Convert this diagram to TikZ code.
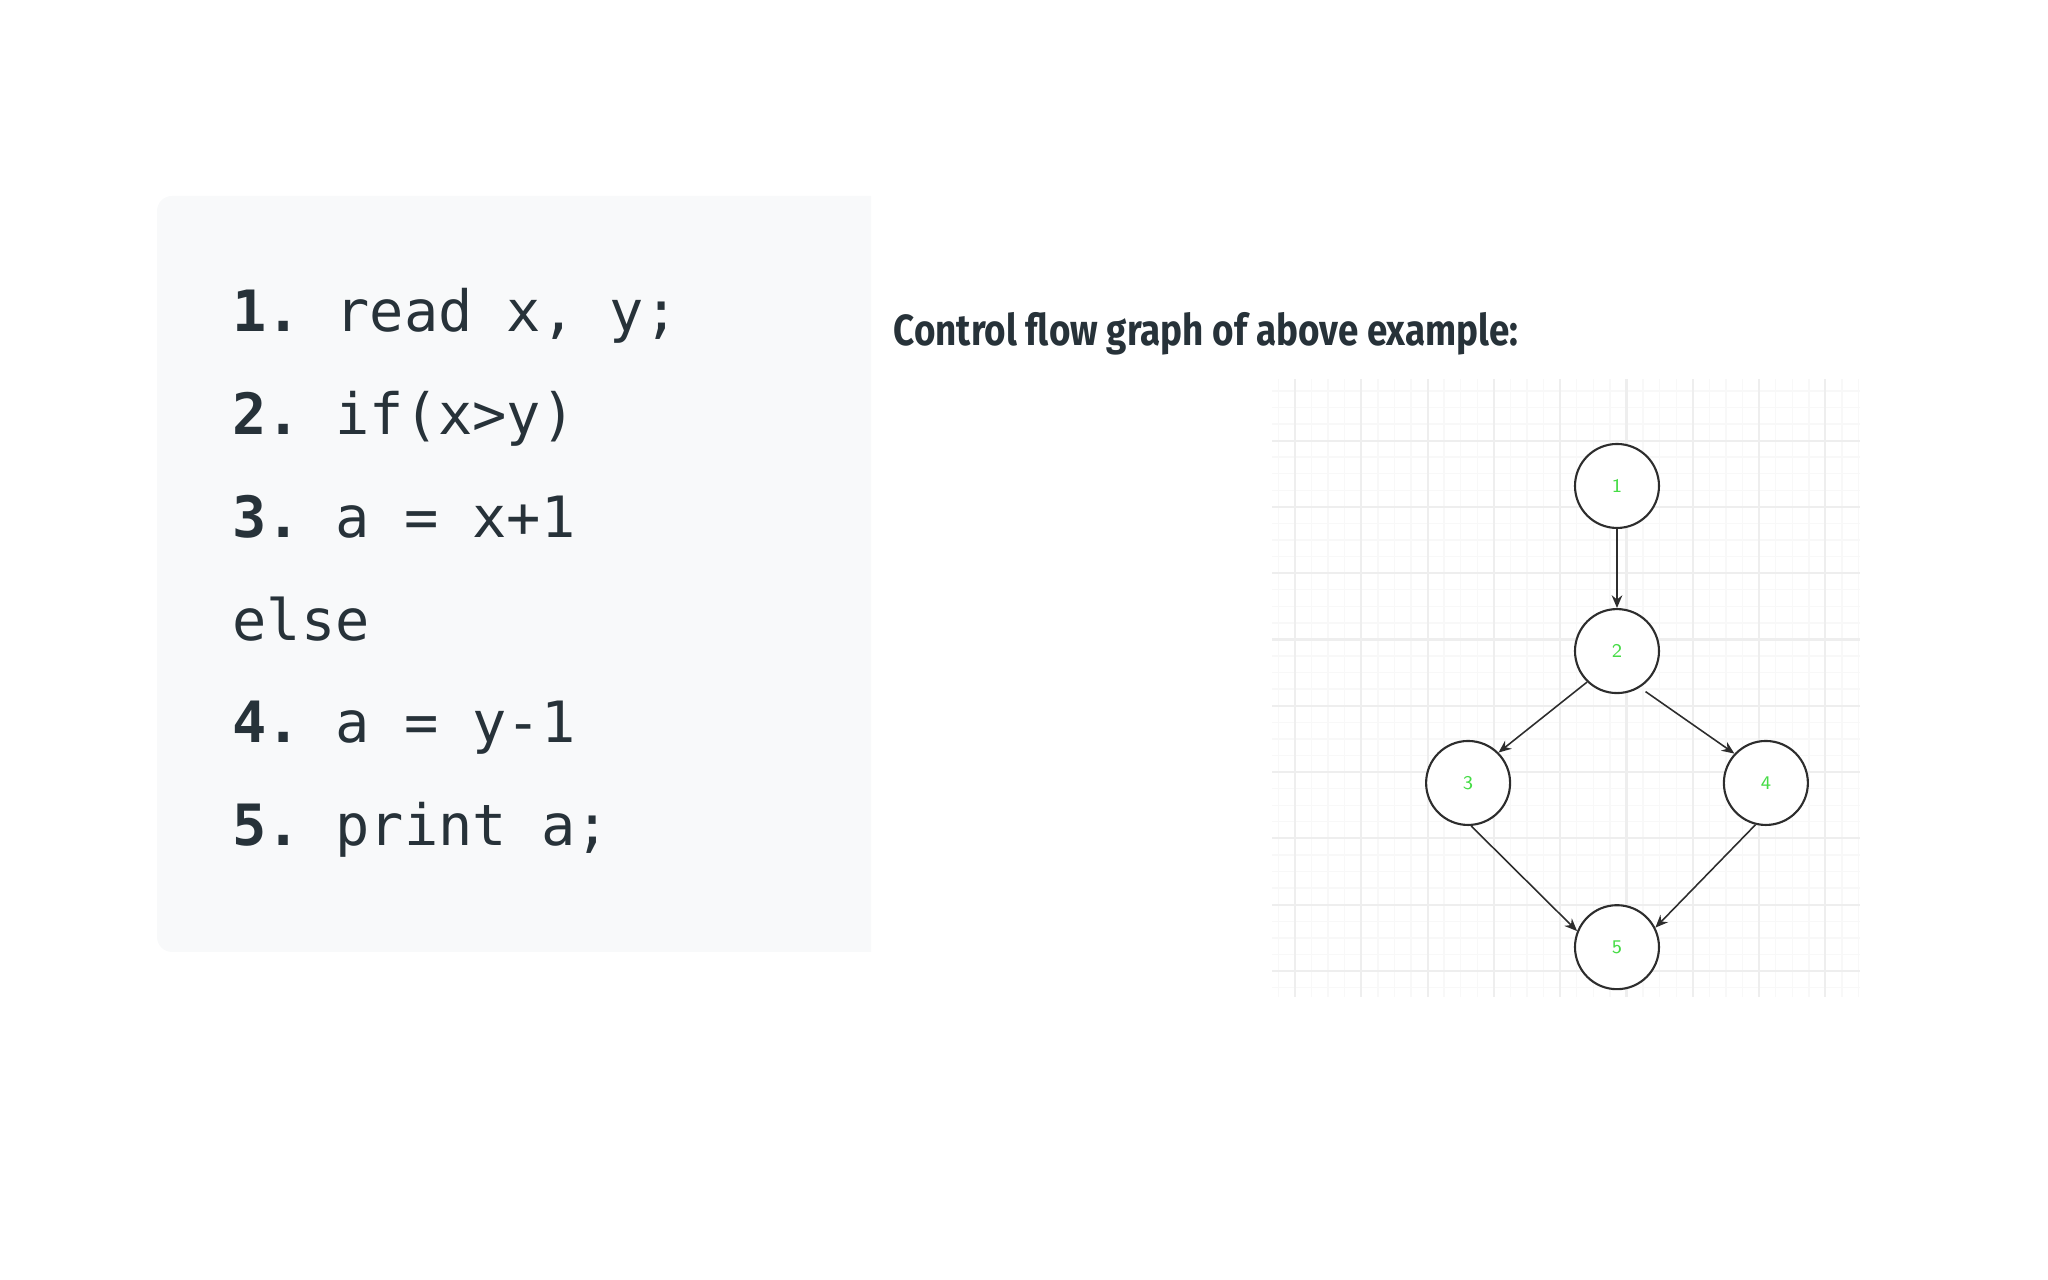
\documentclass[tikz,border=0pt]{standalone}
\usepackage{fontspec}
\setmonofont{DejaVu Sans Mono}
\newfontfamily\titlefont{Fira Sans}[FakeStretch=0.845]
\usepackage{tikz}
\usetikzlibrary{positioning,arrows.meta}
\usepackage{xcolor}
\definecolor{textdark}{RGB}{39,50,57}
\definecolor{codebg}{RGB}{248,249,250}
\definecolor{nodegreen}{RGB}{70,220,70}
\definecolor{gridmajor}{RGB}{238,238,238}
\definecolor{gridminor}{RGB}{248,248,248}
\definecolor{edgegray}{RGB}{45,45,45}

\begin{document}
\begin{tikzpicture}[node distance=4.68mm and 7mm,
  codeline/.style={font=\ttfamily\fontsize{16.2}{19}\selectfont, text=textdark,
    inner sep=0pt, text height=12pt, text depth=3.5pt},
  cfgnode/.style={circle, draw=edgegray, line width=0.6pt, fill=white,
    minimum size=8.4mm, inner sep=0pt, text=nodegreen,
    font=\sffamily\fontsize{5.5}{6}\selectfont},
  flow/.style={draw=edgegray, line width=0.45pt, -{Stealth[length=3.6pt,width=3pt]}}]
\useasboundingbox (0,0) rectangle (20.48,12.8);
% code panel
\fill[codebg] (8.71,10.84) {[rounded corners=1.5mm] -- (1.57,10.84) -- (1.57,3.28)} -- (8.71,3.28) -- cycle;
\node (l1) [codeline, anchor=base west] at (2.32,9.48) {\textbf{1.} read x, y;};
\node (l2) [codeline, below=of l1.south west, anchor=north west] {\textbf{2.} if(x>y)};
\node (l3) [codeline, below=of l2.south west, anchor=north west] {\textbf{3.} a = x+1};
\node (l4) [codeline, below=of l3.south west, anchor=north west] {else};
\node (l5) [codeline, below=of l4.south west, anchor=north west] {\textbf{4.} a = y-1};
\node (l6) [codeline, below=of l5.south west, anchor=north west] {\textbf{5.} print a;};
% heading
\node (title) [anchor=base west, inner sep=0pt, text=textdark,
  font=\titlefont\bfseries\fontsize{12.4}{14}\selectfont] at (8.93,9.34)
  {Control flow graph of above example:};
% grid behind the graph
\begin{scope}[shift={(12.95,3.09)}]
\draw[gridminor, line width=0.4pt, step=0.16575cm] (-0.23,-0.26) grid (5.65,5.92);
\draw[gridmajor, line width=0.6pt, step=0.663cm] (-0.23,-0.26) grid (5.65,5.92);
\end{scope}
% control flow graph
\node (n1) [cfgnode] at (16.17,7.94) {1};
\node (n2) [cfgnode, below=7.9mm of n1] {2};
\node (n3) [cfgnode, below left=7.1mm and 8.8mm of n2] {3};
\node (n4) [cfgnode, below right=7.1mm and 8.8mm of n2] {4};
\node (n5) [cfgnode, below=21mm of n2] {5};
\draw[flow, line width=0.6pt] (n1) -- (n2);
\draw[flow] (n2.-134) -- (n3.45);
\draw[flow, shorten <=2pt] (n2.-58) -- (n4.137);
\draw[flow] (n3.-86) -- (n5.158);
\draw[flow] (n4.-104) -- (n5.27);
\end{tikzpicture}
\end{document}
